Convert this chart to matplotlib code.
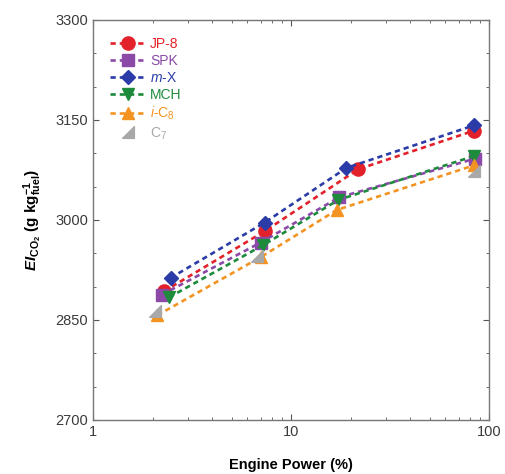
import numpy as np
import matplotlib
import matplotlib.pyplot as plt
from matplotlib.ticker import FixedLocator, NullFormatter

matplotlib.use('Agg')
plt.rcParams['font.family'] = ['Liberation Sans', 'DejaVu Sans']
plt.rcParams['mathtext.fontset'] = 'custom'
plt.rcParams['mathtext.rm'] = 'Liberation Sans'
plt.rcParams['mathtext.it'] = 'Liberation Sans:italic'
plt.rcParams['mathtext.bf'] = 'Liberation Sans:bold'
plt.rcParams['mathtext.bfit'] = 'Liberation Sans:bold:italic'

# Data: engine power (%) vs EI CO2 (g/kg fuel)
jp8_x = [2.28, 7.34, 21.8, 84]
jp8_y = [2893, 2983, 3076, 3134]
spk_x = [2.23, 7.0, 17.5, 85]
spk_y = [2888, 2966, 3034, 3092]
mx_x = [2.46, 7.34, 19.0, 84]
mx_y = [2913, 2996, 3078, 3142]
mch_x = [2.42, 7.2, 17.3, 84]
mch_y = [2884, 2962, 3030, 3096]
ic8_x = [2.11, 7.0, 17.0, 84]
ic8_y = [2857, 2944, 3015, 3082]
c7_x = [2.06, 6.7, 84]
c7_y = [2864, 2946, 3073]

labels = ['JP-8', 'SPK', '$m$-X', 'MCH', '$i$-C$_8$', 'C$_7$']
colors = ['#e3212b', '#8c49a8', '#2b3ca8', '#1d8a3c', '#f39422', '#a8a8a8']

fig = plt.figure(figsize=(5.06, 4.74), dpi=100)
ax = fig.add_axes([0.184, 0.114, 0.783, 0.844])

dash = dict(linestyle=(0, (2.0, 1.5)), linewidth=1.9)
ax.plot(jp8_x, jp8_y, marker='o', ms=9.5, color=colors[0], label=labels[0], **dash)
ax.plot(spk_x, spk_y, marker='s', ms=9, color=colors[1], label=labels[1], **dash)
ax.plot(mx_x, mx_y, marker='D', ms=7, color=colors[2], label=labels[2], **dash)
ax.plot(mch_x, mch_y, marker='v', ms=9, color=colors[3], label=labels[3], **dash)
ax.plot(ic8_x, ic8_y, marker='^', ms=9, color=colors[4], label=labels[4], **dash)
tri = [(-1, -1), (1, -1), (1, 1), (-1, -1)]
ax.plot(c7_x, c7_y, marker=tri, ms=8.5, linestyle='none', color=colors[5], label=labels[5])

ax.set_xscale('log')
ax.set_xlim(1, 100)
ax.set_ylim(2700, 3300)
ax.set_yticks([2700, 2850, 3000, 3150, 3300])
ax.yaxis.set_minor_locator(FixedLocator(np.arange(2700, 3301, 50)))
ax.set_xticks([1, 10, 100])
ax.set_xticklabels(['1', '10', '100'])
ax.xaxis.set_minor_formatter(NullFormatter())

ax.tick_params(which='both', direction='in', top=True, right=True,
               colors='#555555', labelcolor='#3a3a3a', labelsize=10.5)
ax.tick_params(which='major', length=4)
ax.tick_params(which='minor', length=2.5)
for s in ax.spines.values():
    s.set_color('#777777')
    s.set_linewidth(1.0)

ax.set_xlabel('Engine Power (%)', fontsize=10.5, fontweight='bold', labelpad=14)
ax.set_ylabel(r'$\mathbfit{EI}_{\mathbf{CO_2}}$ $\mathbf{(g\ kg_{fuel}^{-1})}$',
              fontsize=11, labelpad=8)

leg = ax.legend(loc='upper left', frameon=False, fontsize=10, handlelength=2.6,
                handletextpad=0.3, labelspacing=0.22, borderaxespad=0.8)
for t, c in zip(leg.get_texts(), colors):
    t.set_color(c)

fig.savefig('out.png', dpi=100)
